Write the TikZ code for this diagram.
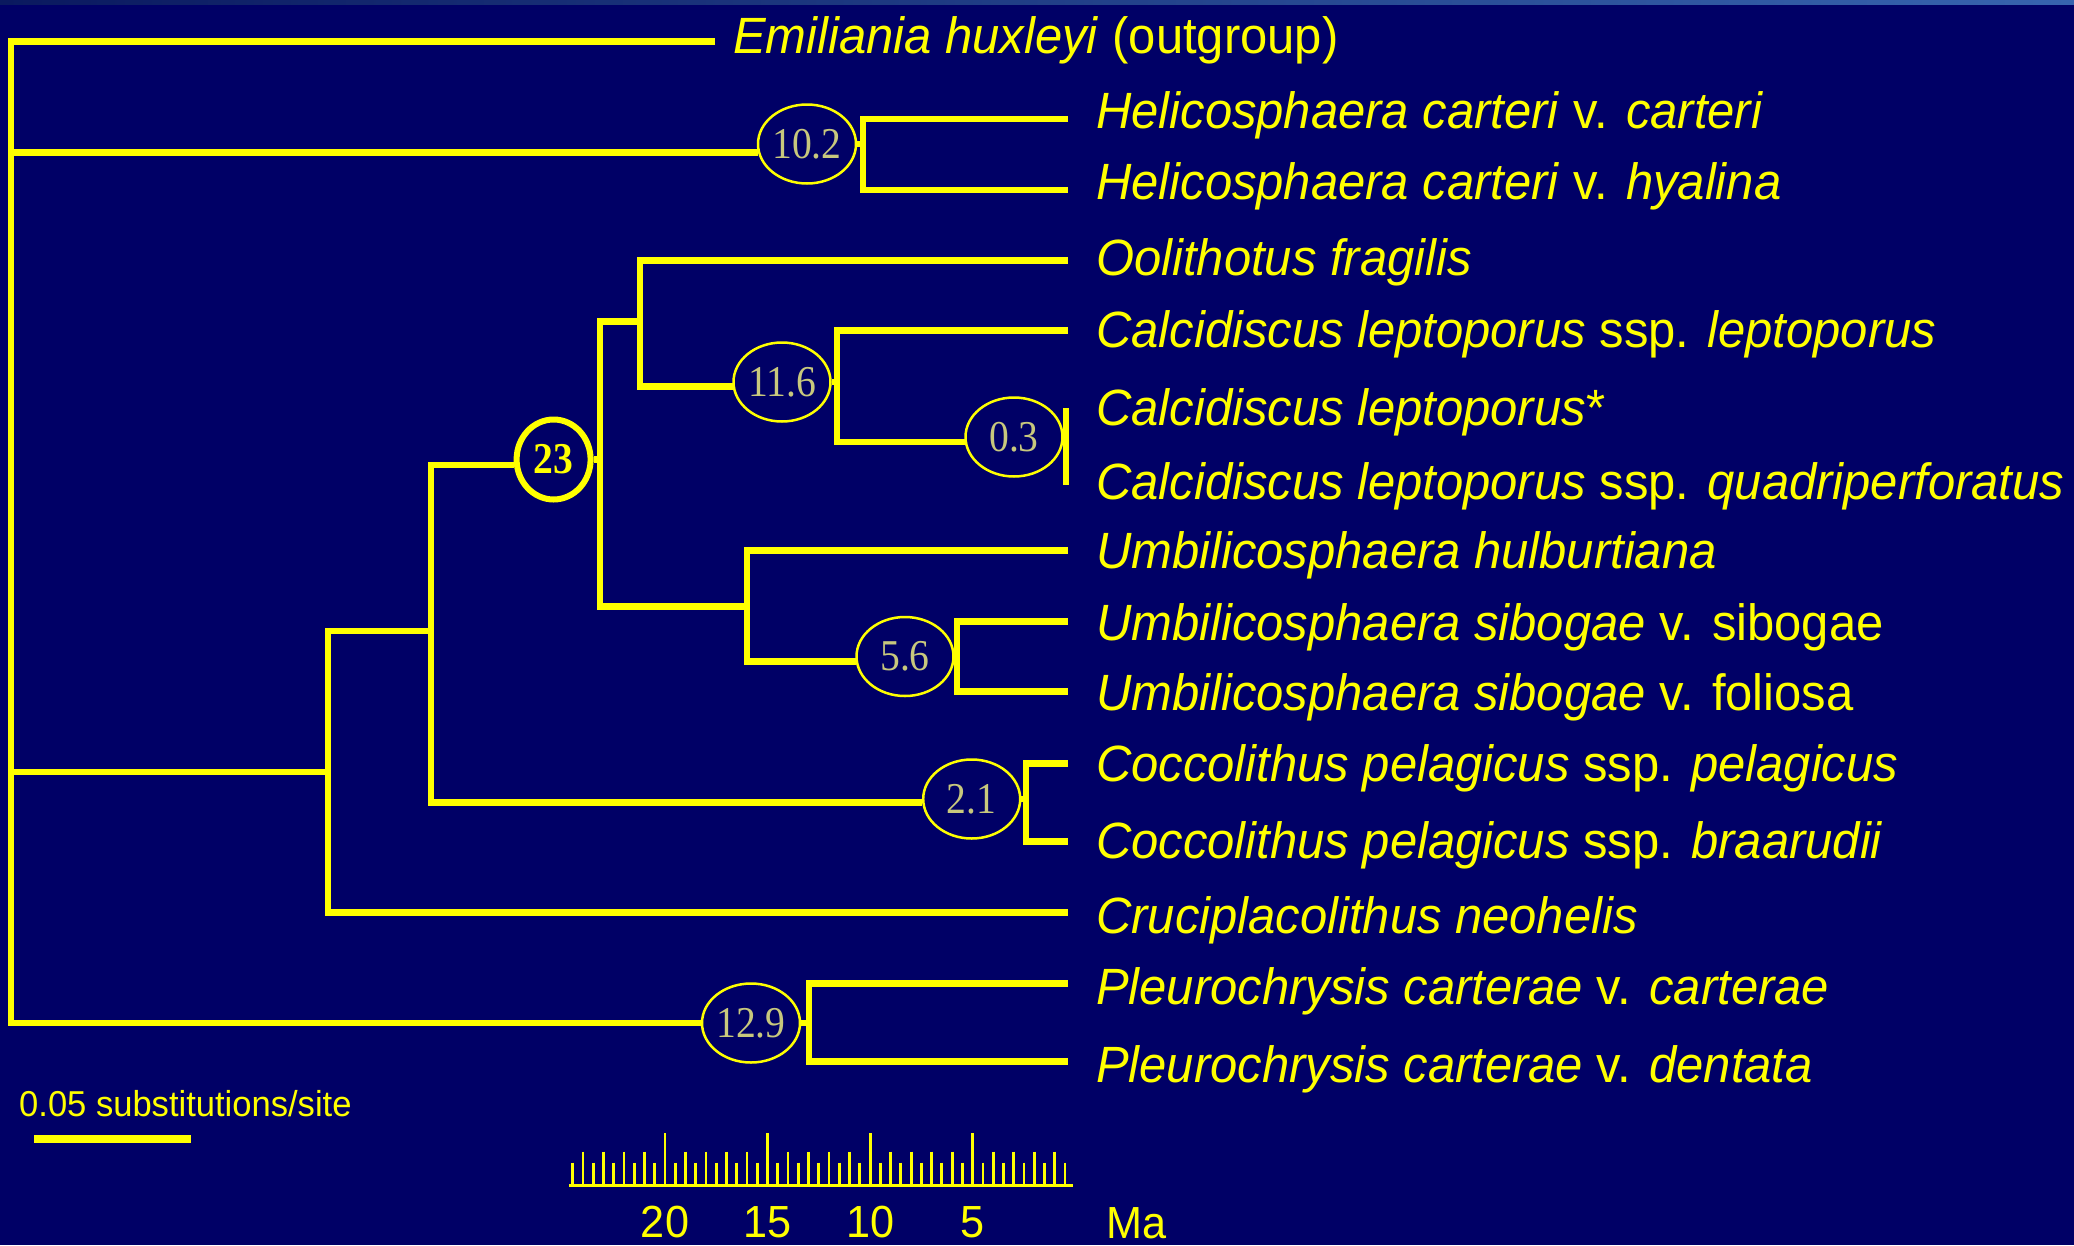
\documentclass[tikz,border=0pt]{standalone}
\usepackage{fontspec}
\setmainfont{Liberation Sans}
\newfontfamily\taxfont{Liberation Sans}[FakeStretch=0.96]
\newfontfamily\numfont{Liberation Serif}[FakeStretch=0.9]
\usetikzlibrary{shapes.geometric}
\definecolor{bg}{RGB}{0,0,102}
\definecolor{yel}{RGB}{255,255,0}
\definecolor{numcol}{RGB}{200,200,125}
\definecolor{bandL}{RGB}{10,25,95}
\definecolor{bandR}{RGB}{55,100,175}
\begin{document}
\begin{tikzpicture}[x=1pt,y=-1pt,
  br/.style={draw=yel,line width=6.5pt,line join=miter,line cap=butt},
  ell/.style={ellipse,draw=yel,line width=2.5pt,fill=bg,minimum width=97pt,minimum height=79pt,inner sep=0pt,font={\numfont\fontsize{44}{50}\selectfont},text=numcol},
  circbold/.style={ellipse,draw=yel,line width=6pt,fill=bg,minimum width=74pt,minimum height=80pt,inner sep=0pt,font={\numfont\bfseries\fontsize{44}{50}\selectfont},text=yel},
  tax/.style={anchor=base west,inner sep=0pt,text=yel,font={\taxfont\fontsize{51}{60}\selectfont}},
  axl/.style={anchor=base,inner sep=0pt,text=yel,font={\taxfont\fontsize{45}{52}\selectfont}},
  ticky/.style={draw=yel,line width=2.8pt},
]
\useasboundingbox (0,0) rectangle (2074,1245);
\fill[bg] (0,0) rectangle (2074,1245);
\shade[left color=bandL,right color=bandR] (0,0) rectangle (2074,4);

% x positions of vertical branch lines
\coordinate (rx) at (11,0);
\coordinate (vH) at (863,0);
\coordinate (vA) at (328,0);
\coordinate (vC) at (600,0);
\coordinate (vE) at (837,0);
\coordinate (vH2) at (957,0);
\coordinate (vI) at (1026,0);
\coordinate (vJ) at (809,0);
\coordinate (nA) at (328,772);
\coordinate (nB) at (431,631);
\coordinate (nD) at (640,321.7);
\coordinate (nG) at (747,606.7);

% tips
\coordinate (p1) at (715,41.7);
\coordinate (p2) at (1068,119);
\coordinate (p3) at (1068,190);
\coordinate (p4) at (1068,260.7);
\coordinate (p5) at (1068,330.7);
\coordinate (p6) at (1066,408);
\coordinate (p7) at (1066,485);
\coordinate (p8) at (1068,550.7);
\coordinate (p9) at (1068,621.7);
\coordinate (p10) at (1068,691.7);
\coordinate (p11) at (1068,763.3);
\coordinate (p12) at (1068,841.7);
\coordinate (p13) at (1068,912.7);
\coordinate (p14) at (1068,983.3);
\coordinate (p15) at (1068,1061.7);

% node ellipses
\node[ell] (e102) at (807,144) {10.2};
\node[ell] (e116) at (782,382) {11.6};
\node[ell] (e03) at (1014,437) {0.3};
\node[ell] (e56) at (905,656.5) {5.6};
\node[ell] (e21) at (971.7,799) {2.1};
\node[ell] (e129) at (751,1023) {12.9};
\node[circbold] (c23) at (553.6,459.5) {23};

% root
\draw[br] (p1) -- (p1 -| rx) -- (e129.west -| rx) -- (e129.west);
% Helicosphaera
\draw[br] (e102.190 -| rx) -- (e102.190);
\draw[br] (e102.east) -- (e102.east -| vH);
\draw[br] (p2) -- (p2 -| vH) -- (p3 -| vH) -- (p3);
% main clade
\draw[br] (nA -| rx) -- (nA);
\draw[br] (nB) -- (nB -| vA) -- (p13 -| vA) -- (p13);
\draw[br] (c23.188) -- (c23.188 -| nB) -- (e21.184 -| nB) -- (e21.184);
\draw[br] (c23.east) -- (c23.east -| vC);
\draw[br] (nD) -- (nD -| vC) -- (nG -| vC) -- (nG);
\draw[br] (p4) -- (p4 -| nD) -- (e116.185 -| nD) -- (e116.185);
\draw[br] (e116.east) -- (e116.east -| vE);
\draw[br] (p5) -- (p5 -| vE) -- (e03.186 -| vE) -- (e03.186);
\draw[br] (e03.east) -- (e03.east -| p6);
\draw[br] (p6) -- (p7);
\draw[br] (p8) -- (p8 -| nG) -- (e56.186 -| nG) -- (e56.186);
\draw[br] (e56.east) -- (e56.east -| vH2);
\draw[br] (p9) -- (p9 -| vH2) -- (p10 -| vH2) -- (p10);
\draw[br] (e21.east) -- (e21.east -| vI);
\draw[br] (p11) -- (p11 -| vI) -- (p12 -| vI) -- (p12);
% Pleurochrysis
\draw[br] (e129.east) -- (e129.east -| vJ);
\draw[br] (p14) -- (p14 -| vJ) -- (p15 -| vJ) -- (p15);

% taxon labels
\node[tax] (t1) at (733,53) {\textit{Emiliania huxleyi} (outgroup)};
\node[tax] (t2) at (1096,128) {\textit{Helicosphaera carteri} v. \textit{carteri}};
\node[tax] (t3) at (1096,199.5) {\textit{Helicosphaera carteri} v. \textit{hyalina}};
\node[tax] (t4) at (1096,275) {\textit{Oolithotus fragilis}};
\node[tax] (t5) at (1096,347.5) {\textit{Calcidiscus leptoporus} ssp. \textit{leptoporus}};
\node[tax] (t6) at (1096,425.5) {\textit{Calcidiscus leptoporus}*};
\node[tax] (t7) at (1096,499.5) {\textit{Calcidiscus leptoporus} ssp. \textit{quadriperforatus}};
\node[tax] (t8) at (1096,568.5) {\textit{Umbilicosphaera hulburtiana}};
\node[tax] (t9) at (1096,640) {\textit{Umbilicosphaera sibogae} v. sibogae};
\node[tax] (t10) at (1096,710) {\textit{Umbilicosphaera sibogae} v. foliosa};
\node[tax] (t11) at (1096,781.5) {\textit{Coccolithus pelagicus} ssp. \textit{pelagicus}};
\node[tax] (t12) at (1096,858.5) {\textit{Coccolithus pelagicus} ssp. \textit{braarudii}};
\node[tax] (t13) at (1096,933.5) {\textit{Cruciplacolithus neohelis}};
\node[tax] (t14) at (1096,1004) {\textit{Pleurochrysis carterae} v. \textit{carterae}};
\node[tax] (t15) at (1096,1082) {\textit{Pleurochrysis carterae} v. \textit{dentata}};

% substitution scale
\node[anchor=base west,inner sep=0pt,text=yel,font={\taxfont\fontsize{36}{42}\selectfont}] (sbt) at (19,1116) {0.05 substitutions/site};
\coordinate (sb1) at (34,1139);
\coordinate (sb2) at (191,1139);
\draw[draw=yel,line width=8pt] (sb1) -- (sb2);

% time axis
\coordinate (ax1) at (569,1185.7);
\coordinate (ax2) at (1073,1185.7);
\draw[draw=yel,line width=3.2pt] (ax1) -- (ax2);
\foreach \k in {1,...,49}{
  \pgfmathsetmacro{\xx}{1075.2-\k*10.255}
  \pgfmathsetmacro{\yy}{ifthenelse(mod(\k,10)==0,1133,ifthenelse(mod(\k,2)==0,1151.7,1162.7))}
  \draw[ticky] (\xx,\yy) -- (\xx,1185.7);
}
\node[axl] (l20) at (665,1237) {20};
\node[axl] (l15) at (767.6,1237) {15};
\node[axl] (l10) at (870.1,1237) {10};
\node[axl] (l5) at (972.7,1237) {5};
\node[axl,anchor=base west] (lma) at (1106,1238) {Ma};
\end{tikzpicture}
\end{document}
